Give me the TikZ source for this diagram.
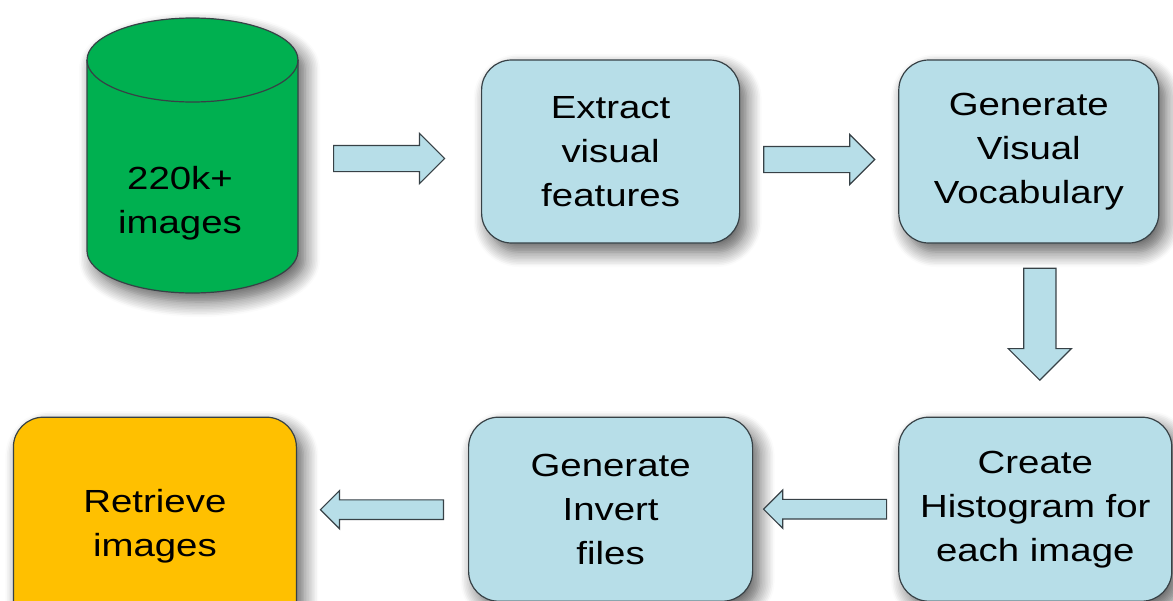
\documentclass[tikz,border=0pt]{standalone}
\usepackage{fontspec}
\setmainfont{Liberation Sans}[FakeStretch=1.2]
\usepackage{tikz}
\usetikzlibrary{positioning,calc,shapes.arrows,shadows.blur}
\definecolor{BoxBlue}{RGB}{183,222,232}
\definecolor{StoreGreen}{RGB}{0,176,80}
\definecolor{ResultOrange}{RGB}{255,192,0}
\definecolor{EdgeGrey}{RGB}{55,65,70}

\begin{document}
\begin{tikzpicture}[node distance=150pt and 150pt,
                    softshadow/.style={blur shadow={shadow xshift=7pt,shadow yshift=-9pt,shadow blur radius=15pt,shadow blur steps=10,shadow opacity=65}},
                    basenode/.style={draw=EdgeGrey,line width=1.2pt,align=center,inner sep=0pt,font={\fontsize{32}{44}\selectfont},softshadow},
                    stepbox/.style={basenode,rectangle,rounded corners=30pt,fill=BoxBlue,minimum height=183pt},
                    storebody/.style={draw=EdgeGrey,line width=1.2pt,fill=StoreGreen,softshadow},
                    storetext/.style={align=center,inner sep=0pt,font={\fontsize{32}{44}\selectfont}},
                    blockarrow/.style={draw=EdgeGrey,line width=1.2pt,fill=BoxBlue,single arrow,single arrow tip angle=90,inner xsep=0pt,minimum width=0pt,anchor=tail},
                    fwdarrow/.style={blockarrow,inner ysep=12.5pt,single arrow head extend=12pt,minimum height=111pt},
                    downarrow/.style={blockarrow,inner ysep=15.5pt,single arrow head extend=15.5pt,minimum height=112pt,rotate=-90},
                    backarrow/.style={blockarrow,inner ysep=9.25pt,single arrow head extend=9.25pt,minimum height=123pt,rotate=180}]
    \useasboundingbox (0,0) rectangle (1173pt,-600pt);
    % image store
    \coordinate (dbtop) at (192.5pt,-60pt);
    \coordinate (dbbot) at (192.5pt,-251pt);
    \coordinate (dbeast) at (298pt,-151.5pt);
    \path[storebody] ([xshift=-105.5pt]dbtop) -- ([xshift=-105.5pt]dbbot)
        arc[start angle=180,end angle=360,x radius=105.5pt,y radius=42pt] -- ([xshift=105.5pt]dbtop)
        arc[start angle=0,end angle=180,x radius=105.5pt,y radius=42pt] -- cycle;
    \draw[draw=EdgeGrey,line width=1.2pt] ([xshift=-105.5pt]dbtop) arc[start angle=180,end angle=360,x radius=105.5pt,y radius=42pt];
    \node[storetext] (images) at ($(dbtop)!.5!(dbbot)+(-12.5pt,-48pt)$) {220k+\\images};
    % steps
    \node[stepbox,minimum width=258pt] (extract) [right=183pt of dbeast] {Extract\\visual\\features};
    \node[stepbox,minimum width=260pt] (vocab) [right=158pt of extract] {Generate\\Visual\\Vocabulary};
    \node[stepbox,minimum width=273pt,minimum height=184pt] (histo) [below=173pt of vocab.south west,anchor=north west] {Create\\Histogram for\\each image};
    \node[stepbox,minimum width=284pt,minimum height=184pt] (invert) [left=145pt of histo] {Generate\\Invert\\files};
    \node[stepbox,minimum width=283pt,minimum height=218pt,fill=ResultOrange] (retrieve) [left=171pt of invert.north west,anchor=north east] {Retrieve\\images};
    % block arrows
    \node[fwdarrow] (a1) at ($(dbeast)+(35pt,-7pt)$) {};
    \node[fwdarrow] (a2) at ($(extract.east)+(23pt,-8pt)$) {};
    \node[downarrow] (a3) at ($(vocab.south)+(11pt,-24pt)$) {};
    \node[backarrow] (a4) at ($(histo.west)+(-11pt,0pt)$) {};
    \node[backarrow] (a5) at ($(invert.west)+(-24pt,-0.5pt)$) {};
  \end{tikzpicture}
\end{document}
